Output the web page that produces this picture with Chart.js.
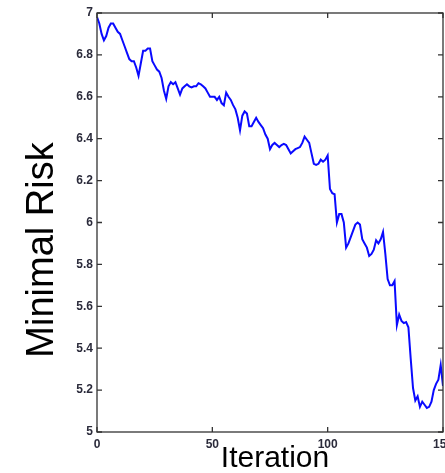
<!DOCTYPE html>
<html>
<head>
<meta charset="utf-8">
<script src="https://cdn.jsdelivr.net/npm/chart.js@4.4.1/dist/chart.umd.min.js"></script>
<style>
  html, body { margin: 0; padding: 0; background: #fff; }
  #wrap { width: 445px; height: 473px; position: relative; }
</style>
</head>
<body>
<div id="wrap"><canvas id="c"></canvas></div>
<script>
// Minimal risk found after each iteration of the search
const iterations = [];
for (let i = 0; i <= 150; i++) iterations.push(i);

const minimalRisk = [
  6.98, 6.95, 6.90, 6.87, 6.89, 6.93, 6.95, 6.95, 6.93, 6.91,
  6.90, 6.87, 6.84, 6.81, 6.78, 6.77, 6.77, 6.74, 6.70, 6.76,
  6.82, 6.82, 6.83, 6.83, 6.77, 6.75, 6.73, 6.72, 6.69, 6.63,
  6.59, 6.65, 6.67, 6.66, 6.67, 6.64, 6.61, 6.64, 6.65, 6.66,
  6.65, 6.645, 6.65, 6.65, 6.665, 6.66, 6.65, 6.64, 6.62, 6.60,
  6.60, 6.60, 6.585, 6.60, 6.57, 6.56, 6.62, 6.60, 6.585, 6.56,
  6.54, 6.50, 6.44, 6.51, 6.53, 6.52, 6.46, 6.46, 6.48, 6.50,
  6.48, 6.465, 6.45, 6.42, 6.40, 6.35, 6.37, 6.38, 6.37, 6.36,
  6.37, 6.375, 6.37, 6.35, 6.33, 6.34, 6.35, 6.355, 6.36, 6.38,
  6.41, 6.395, 6.38, 6.33, 6.28, 6.275, 6.28, 6.30, 6.29, 6.30,
  6.32, 6.16, 6.14, 6.135, 6.00, 6.04, 6.04, 6.00, 5.88, 5.90,
  5.93, 5.96, 5.99, 6.00, 5.99, 5.92, 5.90, 5.88, 5.84, 5.85,
  5.87, 5.915, 5.90, 5.92, 5.955, 5.85, 5.73, 5.70, 5.70, 5.72,
  5.51, 5.56, 5.53, 5.52, 5.525, 5.50, 5.35, 5.21, 5.15, 5.17,
  5.12, 5.145, 5.13, 5.115, 5.12, 5.145, 5.20, 5.23, 5.25, 5.32,
  5.22
];

const xTicks = [0, 50, 100, 150];
const yTicks = [5, 5.2, 5.4, 5.6, 5.8, 6, 6.2, 6.4, 6.6, 6.8, 7];
const xTitle = 'Iteration';
const yTitle = 'Minimal Risk';

const AXIS_COLOR = '#333333';
const TICK_FONT = { family: 'Liberation Sans, Arial, sans-serif', size: 12, weight: 'bold' };

// Box frame with inward tick marks on all four sides, plus axis titles
const framePlugin = {
  id: 'frame',
  afterDatasetsDraw(chart) {
    const { ctx, chartArea: a, scales } = chart;
    const L = 5;
    ctx.save();
    ctx.strokeStyle = AXIS_COLOR;
    ctx.lineWidth = 1.3;
    ctx.strokeRect(a.left, a.top, a.right - a.left, a.bottom - a.top);
    ctx.beginPath();
    xTicks.forEach(v => {
      const px = scales.x.getPixelForValue(v);
      ctx.moveTo(px, a.bottom); ctx.lineTo(px, a.bottom - L);
      ctx.moveTo(px, a.top); ctx.lineTo(px, a.top + L);
    });
    yTicks.forEach(v => {
      const py = scales.y.getPixelForValue(v);
      ctx.moveTo(a.left, py); ctx.lineTo(a.left + L, py);
      ctx.moveTo(a.right, py); ctx.lineTo(a.right - L, py);
    });
    ctx.stroke();

    ctx.fillStyle = '#000';
    ctx.font = '30px "Liberation Sans", Arial, sans-serif';
    ctx.textAlign = 'center';
    ctx.textBaseline = 'alphabetic';
    ctx.fillText(xTitle, 275, 467);

    ctx.translate(53, 250);
    ctx.rotate(-Math.PI / 2);
    ctx.font = '38px "Liberation Sans", Arial, sans-serif';
    ctx.fillText(yTitle, 0, 0);
    ctx.restore();
  }
};

new Chart(document.getElementById('c'), {
  type: 'line',
  data: {
    datasets: [{
      data: iterations.map((it, k) => ({ x: it, y: minimalRisk[k] })),
      borderColor: '#0a0aff',
      borderWidth: 2,
      pointRadius: 0,
      tension: 0,
      fill: false
    }]
  },
  options: {
    responsive: true,
    maintainAspectRatio: false,
    animation: false,
    layout: { padding: { top: 13, right: 2, bottom: 0, left: 0 } },
    plugins: { legend: { display: false }, tooltip: { enabled: false } },
    scales: {
      x: {
        type: 'linear',
        min: 0, max: 150,
        afterBuildTicks: s => { s.ticks = xTicks.map(v => ({ value: v })); },
        afterFit: s => { s.height = 41; s.paddingLeft = 0; s.paddingRight = 0; },
        grid: { display: false, drawTicks: false },
        border: { display: false },
        ticks: { font: TICK_FONT, color: '#2b2b3b', padding: 5, maxRotation: 0, autoSkip: false }
      },
      y: {
        type: 'linear',
        min: 5, max: 7,
        afterBuildTicks: s => { s.ticks = yTicks.map(v => ({ value: v })); },
        afterFit: s => { s.width = 97; s.paddingTop = 0; s.paddingBottom = 0; },
        grid: { display: false, drawTicks: false },
        border: { display: false },
        ticks: {
          font: TICK_FONT, color: '#2b2b3b', padding: 4,
          callback: v => String(Math.round(v * 10) / 10)
        }
      }
    }
  },
  plugins: [framePlugin]
});
</script>
</body>
</html>
